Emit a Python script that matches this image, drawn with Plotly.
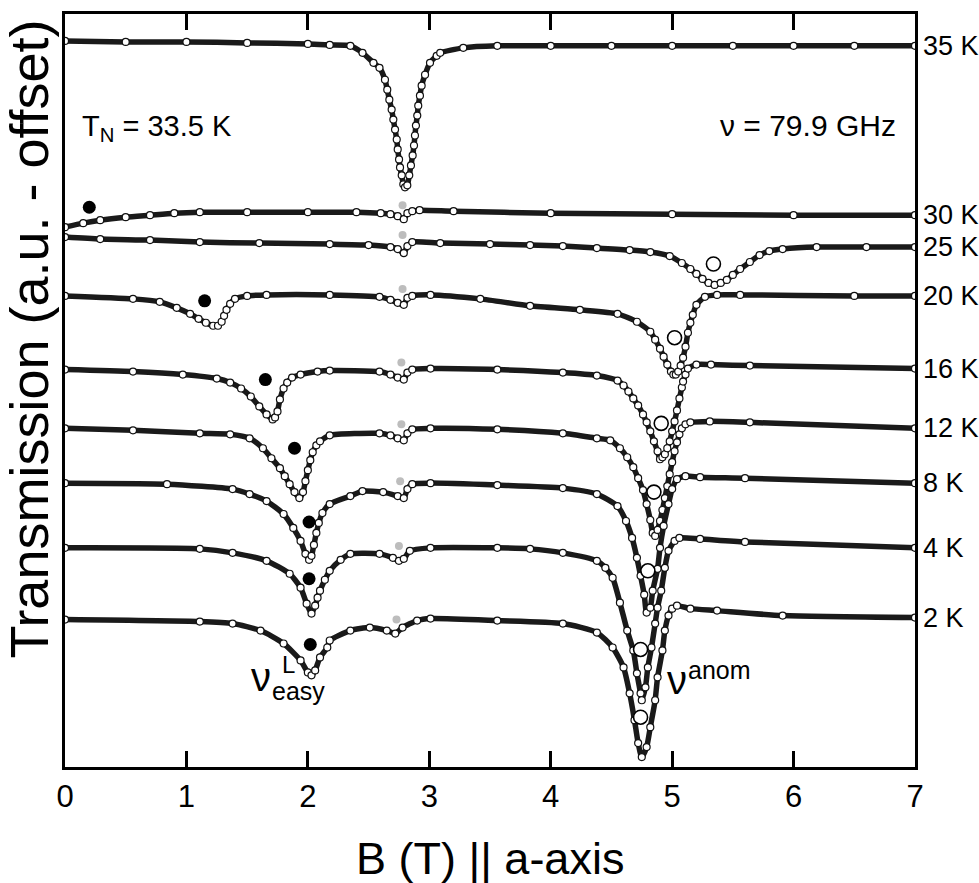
import plotly.graph_objects as go

# Field sweeps B (T) and relative transmission (a.u.) for each temperature
B_35 = [0.0, 0.5, 1.0, 1.5, 2.0, 2.18, 2.35, 2.45, 2.54, 2.59, 2.635, 2.654, 2.671, 2.69, 2.704, 2.718,
        2.732, 2.74, 2.751, 2.759, 2.773, 2.786, 2.80, 2.819, 2.835, 2.849, 2.863, 2.874, 2.882, 2.89,
        2.901, 2.909, 2.923, 2.937, 2.965, 3.006, 3.061, 3.09, 3.28, 3.56, 4.0, 4.5, 5.0, 5.5, 6.0, 6.5, 7.0]
T_35 = [0.0, -0.01, -0.01, -0.02, -0.03, -0.04, -0.05, -0.12, -0.22, -0.27, -0.39, -0.49, -0.59, -0.69,
        -0.79, -0.89, -0.99, -1.09, -1.19, -1.27, -1.35, -1.44, -1.47, -1.45, -1.35, -1.25, -1.15, -1.05,
        -0.95, -0.85, -0.75, -0.65, -0.55, -0.45, -0.34, -0.22, -0.15, -0.12, -0.07, -0.05, -0.05, -0.05,
        -0.05, -0.05, -0.05, -0.05, -0.05]

B_30 = [0.0, 0.15, 0.29, 0.5, 0.7, 0.9, 1.11, 1.5, 2.0, 2.4, 2.6, 2.68, 2.74, 2.79, 2.82, 2.86, 2.92,
        3.2, 4.0, 5.0, 6.0, 7.0]
T_30 = [0.0, 0.04, 0.07, 0.10, 0.12, 0.14, 0.15, 0.15, 0.15, 0.15, 0.14, 0.13, 0.11, 0.08, 0.14, 0.16,
        0.17, 0.16, 0.14, 0.13, 0.12, 0.12]

B_25 = [0.0, 0.29, 0.7, 1.11, 1.6, 2.18, 2.5, 2.68, 2.74, 2.79, 2.82, 2.86, 3.09, 3.5, 3.83, 4.1, 4.38,
        4.65, 4.82, 4.98, 5.08, 5.15, 5.2, 5.25, 5.3, 5.35, 5.4, 5.45, 5.5, 5.56, 5.64, 5.72, 5.8, 5.91,
        6.19, 6.6, 7.0]
T_25 = [0.0, -0.02, -0.03, -0.05, -0.06, -0.07, -0.08, -0.10, -0.12, -0.16, -0.09, -0.05, -0.06, -0.07,
        -0.08, -0.09, -0.11, -0.13, -0.15, -0.19, -0.26, -0.32, -0.37, -0.42, -0.46, -0.48, -0.46, -0.43,
        -0.38, -0.32, -0.25, -0.18, -0.14, -0.12, -0.10, -0.10, -0.10]

B_20 = [0.0, 0.56, 0.78, 0.92, 1.03, 1.10, 1.16, 1.22, 1.26, 1.29, 1.31, 1.33, 1.36, 1.40, 1.50, 1.66,
        2.18, 2.59, 2.68, 2.74, 2.79, 2.82, 2.86, 3.01, 3.42, 3.83, 4.24, 4.55, 4.71, 4.82, 4.86, 4.90,
        4.93, 4.96, 4.99, 5.01, 5.03, 5.05, 5.07, 5.09, 5.11, 5.13, 5.15, 5.17, 5.20, 5.27, 5.37, 5.56,
        6.5, 7.0]
T_20 = [0.0, -0.03, -0.06, -0.12, -0.18, -0.23, -0.27, -0.30, -0.30, -0.26, -0.20, -0.14, -0.08, -0.03,
        0.0, 0.01, 0.01, -0.01, -0.04, -0.07, -0.09, -0.02, 0.0, 0.01, -0.03, -0.10, -0.14, -0.18, -0.26,
        -0.36, -0.44, -0.53, -0.61, -0.69, -0.76, -0.79, -0.79, -0.76, -0.70, -0.62, -0.51, -0.37, -0.27,
        -0.19, -0.09, -0.01, 0.01, 0.01, 0.0, 0.0]

B_16 = [0.0, 0.56, 0.97, 1.25, 1.36, 1.45, 1.53, 1.60, 1.66, 1.71, 1.73, 1.75, 1.77, 1.80, 1.83, 1.87,
        1.94, 2.08, 2.18, 2.59, 2.68, 2.74, 2.79, 2.82, 2.86, 3.01, 3.56, 4.10, 4.38, 4.55, 4.60, 4.64,
        4.68, 4.72, 4.76, 4.79, 4.82, 4.85, 4.88, 4.90, 4.92, 4.94, 4.96, 4.98, 5.00, 5.02, 5.04, 5.06,
        5.08, 5.09, 5.11, 5.13, 5.20, 5.32, 5.64, 7.0]
T_16 = [0.0, -0.02, -0.05, -0.09, -0.13, -0.19, -0.27, -0.37, -0.45, -0.50, -0.48, -0.42, -0.30, -0.19,
        -0.13, -0.08, -0.05, -0.02, -0.01, -0.02, -0.05, -0.08, -0.10, -0.03, 0.0, 0.01, 0.0, -0.03,
        -0.06, -0.11, -0.16, -0.22, -0.29, -0.36, -0.45, -0.53, -0.62, -0.72, -0.82, -0.90, -0.88, -0.85,
        -0.79, -0.72, -0.62, -0.52, -0.41, -0.29, -0.18, -0.12, -0.05, 0.01, 0.05, 0.05, 0.04, 0.01]

B_12 = [0.0, 0.56, 1.11, 1.36, 1.52, 1.63, 1.70, 1.77, 1.81, 1.85, 1.89, 1.93, 1.96, 1.98, 2.00, 2.02,
        2.04, 2.07, 2.10, 2.18, 2.59, 2.68, 2.74, 2.79, 2.82, 2.86, 3.01, 3.56, 4.10, 4.38, 4.49, 4.57,
        4.63, 4.68, 4.72, 4.76, 4.79, 4.82, 4.84, 4.86, 4.88, 4.90, 4.92, 4.94, 4.96, 4.98, 5.00, 5.02,
        5.04, 5.06, 5.08, 5.11, 5.15, 5.31, 5.64, 7.0]
T_12 = [0.0, -0.02, -0.05, -0.06, -0.10, -0.20, -0.30, -0.40, -0.48, -0.56, -0.64, -0.70, -0.64, -0.53,
        -0.42, -0.32, -0.24, -0.17, -0.13, -0.07, -0.05, -0.07, -0.10, -0.12, -0.05, -0.01, 0.0, -0.01,
        -0.05, -0.10, -0.12, -0.20, -0.29, -0.39, -0.50, -0.62, -0.76, -0.92, -1.05, -1.08, -1.02, -0.93,
        -0.82, -0.70, -0.58, -0.46, -0.34, -0.23, -0.14, -0.06, 0.0, 0.04, 0.06, 0.07, 0.06, 0.0]

B_8 = [0.0, 0.84, 1.38, 1.52, 1.66, 1.80, 1.88, 1.94, 1.98, 2.01, 2.03, 2.05, 2.07, 2.09, 2.12, 2.18,
       2.35, 2.45, 2.62, 2.74, 2.79, 2.82, 2.86, 3.01, 3.56, 4.10, 4.38, 4.55, 4.62, 4.67, 4.71, 4.74,
       4.77, 4.79, 4.82, 4.84, 4.88, 4.90, 4.93, 4.97, 5.00, 5.04, 5.11, 5.23, 5.6, 7.0]
T_8 = [0.0, -0.01, -0.06, -0.11, -0.18, -0.31, -0.45, -0.58, -0.71, -0.77, -0.73, -0.62, -0.50, -0.40,
       -0.30, -0.21, -0.13, -0.08, -0.09, -0.13, -0.15, -0.06, -0.01, 0.0, -0.02, -0.05, -0.11, -0.23,
       -0.38, -0.55, -0.75, -0.93, -1.12, -1.30, -1.25, -1.08, -0.86, -0.65, -0.43, -0.21, -0.06, 0.04,
       0.07, 0.06, 0.05, 0.0]

B_4 = [0.0, 1.11, 1.38, 1.66, 1.85, 1.94, 1.99, 2.03, 2.06, 2.08, 2.10, 2.14, 2.18, 2.27, 2.35, 2.59,
       2.70, 2.75, 2.79, 2.84, 3.01, 3.56, 3.83, 4.10, 4.38, 4.45, 4.51, 4.57, 4.63, 4.68, 4.71, 4.74,
       4.75, 4.78, 4.80, 4.83, 4.86, 4.88, 4.91, 4.94, 4.97, 5.02, 5.06, 5.23, 5.6, 7.0]
T_4 = [0.0, -0.01, -0.05, -0.13, -0.26, -0.40, -0.56, -0.66, -0.58, -0.50, -0.43, -0.32, -0.23, -0.12,
       -0.06, -0.06, -0.10, -0.13, -0.11, -0.03, 0.0, 0.0, -0.01, -0.05, -0.13, -0.20, -0.30, -0.55,
       -0.83, -1.03, -1.26, -1.46, -1.53, -1.40, -1.20, -1.00, -0.76, -0.60, -0.43, -0.20, -0.03, 0.07,
       0.10, 0.09, 0.06, 0.0]

B_2 = [0.0, 1.11, 1.38, 1.61, 1.80, 1.94, 2.00, 2.03, 2.06, 2.10, 2.16, 2.18, 2.35, 2.51, 2.65, 2.72,
       2.78, 2.90, 3.01, 3.56, 4.10, 4.38, 4.51, 4.60, 4.65, 4.69, 4.72, 4.75, 4.79, 4.82, 4.86, 4.88,
       4.92, 4.94, 4.97, 5.00, 5.04, 5.15, 5.37, 5.91, 7.0]
T_2 = [0.0, -0.02, -0.04, -0.11, -0.24, -0.41, -0.53, -0.56, -0.51, -0.38, -0.28, -0.21, -0.11, -0.08,
       -0.11, -0.14, -0.08, -0.01, 0.01, -0.01, -0.04, -0.13, -0.28, -0.48, -0.74, -1.01, -1.24, -1.38,
       -1.28, -1.08, -0.81, -0.58, -0.31, -0.11, 0.04, 0.11, 0.14, 0.11, 0.09, 0.04, 0.02]

temp_labels = ["35 K", "30 K", "25 K", "20 K", "16 K", "12 K", "8 K", "4 K", "2 K"]
offsets = [7.29, 5.42, 5.32, 4.73, 3.99, 3.40, 2.85, 2.20, 1.48]
fields = [B_35, B_30, B_25, B_20, B_16, B_12, B_8, B_4, B_2]
signals = [T_35, T_30, T_25, T_20, T_16, T_12, T_8, T_4, T_2]

# Resonance markers (field, offset transmission)
easy_B = [0.20, 1.15, 1.65, 1.89, 2.01, 2.01, 2.02]
easy_y = [5.62, 4.68, 3.89, 3.20, 2.46, 1.89, 1.23]
anom_B = [5.34, 5.02, 4.91, 4.85, 4.80, 4.74, 4.74]
anom_y = [5.05, 4.31, 3.45, 2.76, 1.97, 1.18, 0.50]
para_B = [2.78, 2.78, 2.78, 2.77, 2.77, 2.76, 2.75, 2.73]
para_y = [5.64, 5.34, 4.80, 4.06, 3.44, 2.87, 2.22, 1.48]

x_ticks = [0, 1, 2, 3, 4, 5, 6, 7]

FONT = "Liberation Sans, Arial, Helvetica, sans-serif"

fig = go.Figure()

for B, T, off in zip(fields, signals, offsets):
    fig.add_trace(go.Scatter(
        x=B, y=[v + off for v in T], mode="lines+markers",
        line=dict(color="#1a1a1a", width=5.5, shape="spline", smoothing=0.6),
        marker=dict(symbol="circle", size=7, color="white",
                    line=dict(color="#111111", width=1.2)),
        hoverinfo="skip", showlegend=False))

fig.add_trace(go.Scatter(x=para_B, y=para_y, mode="markers",
                         marker=dict(symbol="circle", size=8, color="#bdbdbd"),
                         showlegend=False, hoverinfo="skip"))
fig.add_trace(go.Scatter(x=easy_B, y=easy_y, mode="markers",
                         marker=dict(symbol="circle", size=13, color="black"),
                         showlegend=False, hoverinfo="skip"))
fig.add_trace(go.Scatter(x=anom_B, y=anom_y, mode="markers",
                         marker=dict(symbol="circle", size=14, color="white",
                                     line=dict(color="black", width=1.6)),
                         showlegend=False, hoverinfo="skip"))

annotations = []
for lab, T, off in zip(temp_labels, signals, offsets):
    annotations.append(dict(x=1.007, y=T[-1] + off, xref="paper", yref="y", text=lab,
                            showarrow=False, xanchor="left", yanchor="middle",
                            font=dict(size=27, color="black", family=FONT)))

annotations += [
    dict(x=0.12, y=6.42, xref="x", yref="y", text="T<sub>N</sub> = 33.5 K", showarrow=False,
         xanchor="left", yanchor="middle", font=dict(size=29, color="black", family=FONT)),
    dict(x=6.86, y=6.44, xref="x", yref="y", text="\u03bd = 79.9 GHz", showarrow=False,
         xanchor="right", yanchor="middle", font=dict(size=30, color="black", family=FONT)),
    dict(x=1.61, y=0.90, xref="x", yref="y", text="\u03bd", showarrow=False,
         xanchor="center", yanchor="middle", font=dict(size=40, color="black", family=FONT)),
    dict(x=1.84, y=1.03, xref="x", yref="y", text="L", showarrow=False,
         xanchor="center", yanchor="middle", font=dict(size=24, color="black", family=FONT)),
    dict(x=1.92, y=0.76, xref="x", yref="y", text="easy", showarrow=False,
         xanchor="center", yanchor="middle", font=dict(size=25, color="black", family=FONT)),
    dict(x=5.04, y=0.87, xref="x", yref="y", text="\u03bd", showarrow=False,
         xanchor="center", yanchor="middle", font=dict(size=40, color="black", family=FONT)),
    dict(x=5.39, y=0.97, xref="x", yref="y", text="anom", showarrow=False,
         xanchor="center", yanchor="middle", font=dict(size=25, color="black", family=FONT)),
    dict(x=0.5, y=-0.1217, xref="paper", yref="paper", text="B (T) || a-axis", showarrow=False,
         xanchor="center", yanchor="middle", font=dict(size=45, color="black", family=FONT)),
    dict(x=-0.042, y=0.568, xref="paper", yref="paper", text="Transmission (a.u. - offset)",
         textangle=-90, showarrow=False, xanchor="center", yanchor="middle",
         font=dict(size=54, color="black", family=FONT)),
]

fig.update_layout(
    width=979, height=883,
    margin=dict(l=65, r=64, t=11, b=116),
    paper_bgcolor="white", plot_bgcolor="white",
    font=dict(family=FONT, color="black"),
    annotations=annotations,
    xaxis=dict(range=[0, 7], tickvals=x_ticks, ticktext=[str(t) for t in x_ticks],
               ticks="inside", ticklen=16, tickwidth=2.5, tickcolor="black",
               showline=True, linewidth=3, linecolor="black", mirror="ticks",
               showgrid=False, zeroline=False, tickfont=dict(size=31, color="black", family=FONT)),
    yaxis=dict(range=[0, 7.56], showticklabels=False, ticks="", showline=True, linewidth=3,
               linecolor="black", mirror=True, showgrid=False, zeroline=False),
)

fig.write_html("out.html")
